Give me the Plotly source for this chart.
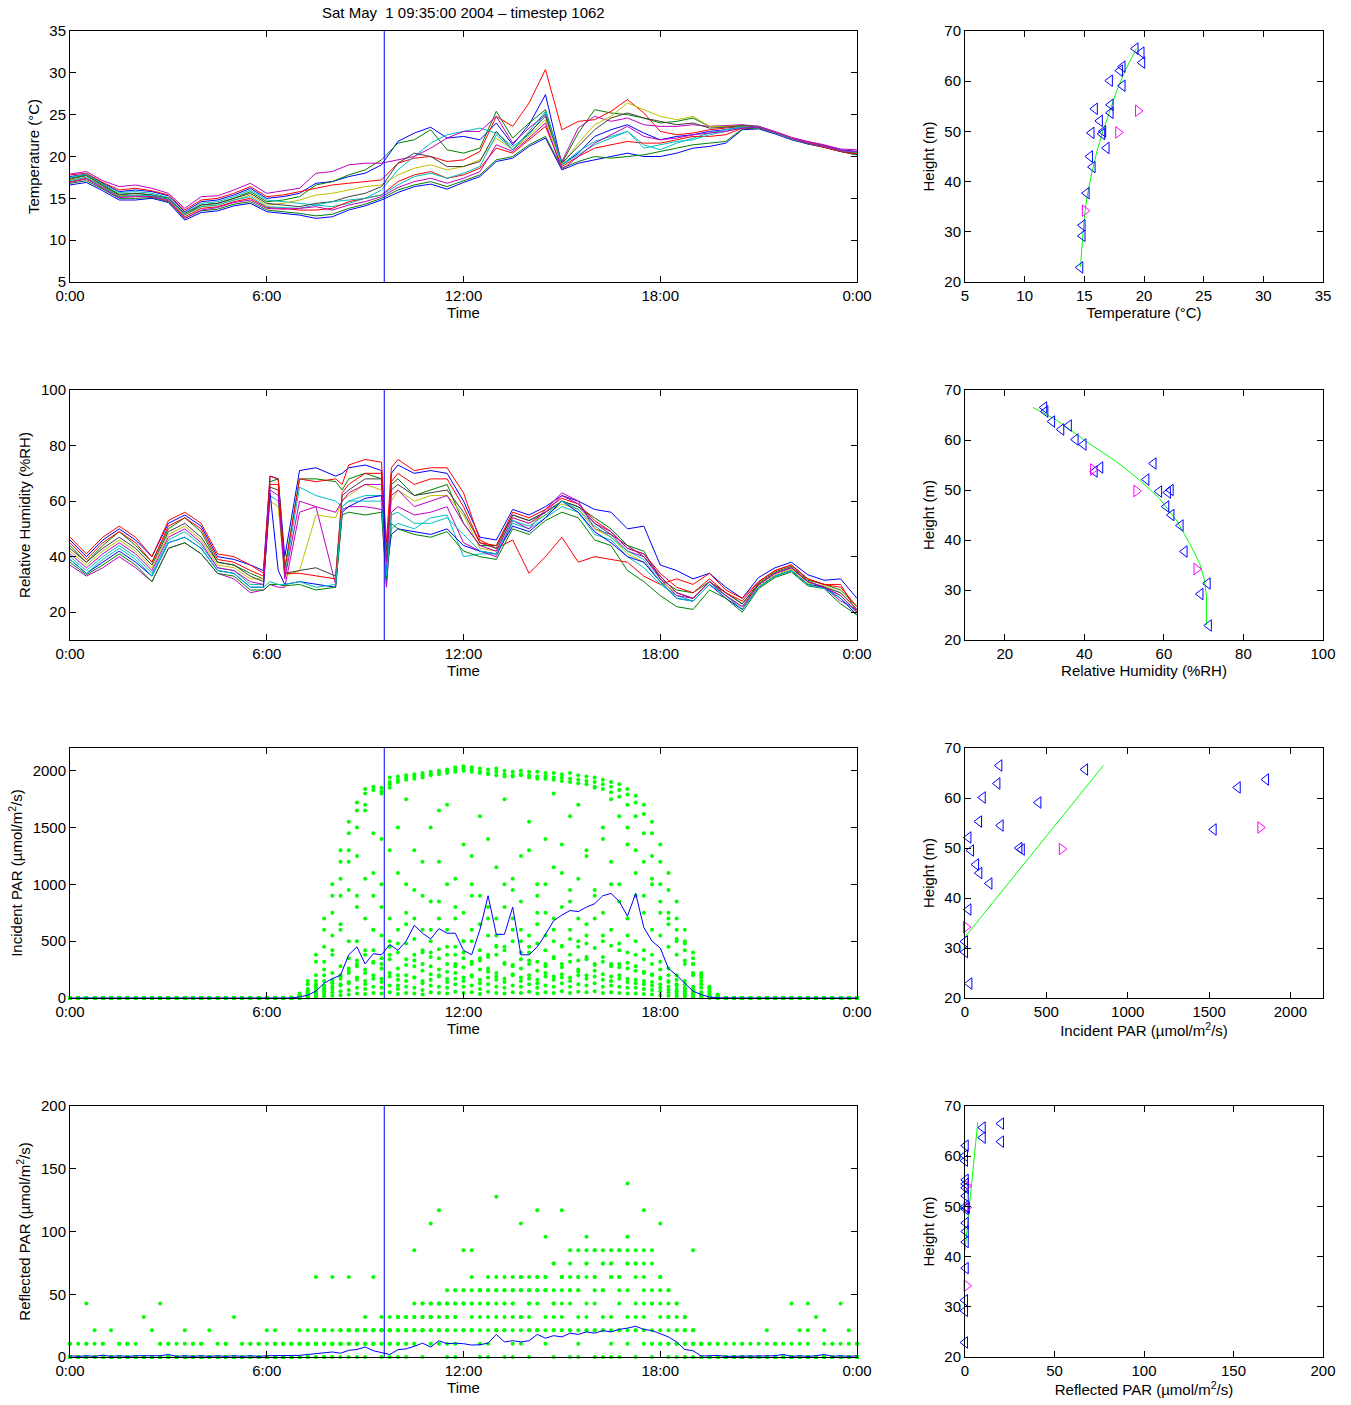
import plotly.graph_objects as go

W, H = 1351, 1405

TITLE = "Sat May\u00a0 1 09:35:00 2004 \u2013 timestep 1062"
CURRENT_TIME_H = 9 + 35 / 60

TIME_TICKS = [0, 6, 12, 18, 24]
TIME_TICK_TEXT = ["0:00", "6:00", "12:00", "18:00", "0:00"]

LINE_COLORS = ["#0000ff", "#008000", "#ff0000", "#00bfbf", "#bf00bf", "#bfbf00", "#404040"]
DOT_GREEN = "#00ff00"
PROFILE_BLUE = "#0000ff"
PROFILE_MAGENTA = "#ff00ff"

# ---------------- Temperature time series (half-hourly, deg C) ----------------
TEMP_TIME_H = [i * 0.5 for i in range(49)]
TEMP_01 = [17.6, 17.9, 16.8, 15.8, 16.0, 15.8, 15.3, 13.4, 14.6, 14.8,
           15.4, 16.2, 15.0, 15.2, 15.6, 16.8, 17.0, 17.6, 18.0, 19.0,
           21.8, 22.8, 23.5, 22.2, 22.4, 22.0, 24.0, 21.4, 23.8, 27.4,
           19.0, 20.4, 22.4, 23.2, 23.8, 22.8, 22.0, 22.4, 22.6, 23.0,
           23.2, 23.5, 23.6, 22.9, 22.2, 21.7, 21.3, 20.8, 20.6]
TEMP_02 = [17.4, 17.8, 16.6, 15.5, 15.6, 15.4, 15.0, 13.0, 14.2, 14.4,
           15.0, 15.8, 14.6, 14.8, 15.2, 16.6, 17.0, 17.8, 18.4, 19.6,
           21.6, 22.0, 23.2, 20.8, 20.4, 21.0, 25.4, 22.2, 24.0, 25.6,
           19.2, 22.8, 25.6, 25.2, 25.0, 24.6, 24.0, 24.2, 24.6, 23.6,
           23.6, 23.7, 23.6, 22.9, 22.2, 21.6, 21.2, 20.7, 20.3]
TEMP_03 = [17.8, 18.0, 16.9, 16.0, 16.2, 15.9, 15.4, 13.6, 14.8, 15.0,
           15.6, 16.4, 15.2, 15.4, 15.8, 16.2, 16.6, 16.8, 17.0, 17.2,
           19.2, 19.8, 20.0, 19.4, 19.6, 20.6, 24.8, 23.6, 26.4, 30.4,
           23.2, 24.2, 24.4, 25.4, 26.8, 25.2, 23.0, 22.6, 22.8, 23.2,
           23.4, 23.6, 23.6, 22.9, 22.2, 21.7, 21.3, 20.7, 20.4]
TEMP_04 = [17.5, 17.9, 16.7, 15.7, 15.8, 15.6, 15.1, 13.2, 14.4, 14.6,
           15.2, 16.0, 14.8, 14.6, 14.4, 14.2, 14.0, 14.4, 15.0, 16.0,
           18.4, 20.0, 21.6, 22.6, 23.0, 23.4, 22.8, 21.2, 22.6, 25.2,
           19.0, 20.2, 21.4, 22.2, 23.0, 21.4, 20.8, 21.6, 22.2, 22.8,
           23.2, 23.6, 23.6, 22.9, 22.2, 21.6, 21.2, 20.7, 20.5]
TEMP_05 = [17.9, 18.2, 17.1, 16.4, 16.6, 16.2, 15.6, 13.8, 15.2, 15.3,
           16.0, 16.8, 15.6, 15.9, 16.2, 18.0, 18.2, 19.0, 19.2, 19.2,
           19.6, 20.0, 21.0, 22.2, 23.0, 23.0, 24.8, 21.6, 23.4, 25.0,
           19.4, 23.4, 24.8, 24.2, 24.6, 23.8, 23.6, 23.6, 23.8, 23.6,
           23.7, 23.8, 23.6, 23.0, 22.3, 21.8, 21.4, 20.9, 20.8]
TEMP_06 = [17.2, 17.5, 16.4, 15.3, 15.4, 15.3, 14.9, 13.0, 14.0, 14.2,
           14.8, 15.4, 14.2, 14.4, 14.8, 15.4, 15.6, 16.0, 16.4, 16.6,
           17.8, 18.6, 19.0, 18.4, 18.8, 19.6, 22.2, 20.8, 22.4, 24.4,
           19.0, 21.6, 23.8, 24.8, 26.4, 25.6, 24.8, 24.4, 24.8, 23.6,
           23.6, 23.7, 23.5, 22.9, 22.2, 21.6, 21.2, 20.7, 20.4]
TEMP_07 = [17.3, 17.7, 16.5, 15.4, 15.6, 15.4, 15.0, 13.2, 14.2, 14.4,
           15.0, 15.6, 14.4, 14.2, 14.0, 14.4, 14.6, 15.2, 15.6, 16.4,
           19.2, 20.4, 20.0, 18.8, 18.8, 19.4, 23.0, 20.8, 22.8, 24.8,
           19.2, 21.2, 23.2, 24.6, 25.2, 24.6, 24.2, 23.8, 24.0, 23.4,
           23.5, 23.7, 23.5, 22.8, 22.1, 21.6, 21.2, 20.7, 20.4]
TEMP_08 = [16.6, 16.9, 15.9, 14.8, 14.8, 15.0, 14.5, 12.4, 13.3, 13.5,
           14.1, 14.4, 13.4, 13.2, 13.0, 12.6, 12.8, 13.6, 14.1, 14.8,
           15.7, 16.4, 16.7, 16.1, 16.9, 17.6, 19.4, 19.8, 21.2, 22.2,
           18.4, 19.2, 19.6, 20.0, 20.4, 20.0, 20.0, 20.4, 21.0, 21.2,
           21.6, 23.2, 23.3, 22.7, 22.0, 21.5, 21.1, 20.6, 20.2]
TEMP_09 = [16.8, 17.1, 16.1, 15.0, 15.0, 15.1, 14.6, 12.6, 13.5, 13.7,
           14.3, 14.6, 13.6, 13.4, 13.2, 12.9, 13.1, 13.8, 14.3, 15.0,
           16.0, 16.6, 17.0, 16.4, 17.1, 17.8, 19.6, 20.0, 21.4, 22.4,
           18.6, 19.4, 20.0, 19.8, 20.0, 20.2, 20.6, 21.0, 21.4, 21.6,
           21.8, 23.3, 23.4, 22.8, 22.1, 21.5, 21.1, 20.6, 20.2]
TEMP_10 = [17.0, 17.4, 16.3, 15.2, 15.3, 15.2, 14.8, 12.8, 13.8, 14.0,
           14.6, 15.0, 13.9, 13.8, 13.6, 13.6, 13.8, 14.6, 15.0, 15.4,
           17.0, 17.8, 18.2, 17.4, 17.8, 18.6, 21.0, 20.4, 22.0, 23.6,
           18.8, 20.0, 21.0, 21.4, 21.8, 21.6, 21.6, 22.0, 22.4, 22.4,
           22.6, 23.4, 23.5, 22.8, 22.1, 21.6, 21.1, 20.6, 20.3]
TEMP_11 = [17.1, 17.5, 16.3, 15.2, 15.4, 15.3, 14.9, 13.0, 14.0, 14.2,
           14.8, 15.2, 14.0, 13.9, 13.8, 14.2, 14.6, 14.8, 15.0, 15.4,
           16.6, 17.6, 18.0, 17.4, 18.0, 18.8, 22.6, 20.8, 23.0, 25.4,
           19.0, 20.6, 21.8, 22.4, 23.0, 21.0, 21.4, 21.8, 22.0, 22.6,
           23.0, 23.5, 23.5, 22.8, 22.1, 21.6, 21.2, 20.7, 20.5]
TEMP_12 = [16.9, 17.3, 16.2, 15.1, 15.2, 15.2, 14.7, 12.6, 13.6, 13.9,
           14.5, 14.8, 13.8, 13.7, 13.8, 14.0, 13.6, 14.2, 14.6, 15.2,
           16.3, 17.0, 17.4, 16.8, 17.4, 18.2, 21.4, 20.6, 22.2, 24.0,
           18.4, 20.0, 21.6, 22.6, 23.6, 22.4, 22.0, 22.2, 22.6, 22.8,
           23.0, 23.4, 23.5, 22.9, 22.2, 21.6, 21.2, 20.7, 20.6]
TEMP_SERIES = [TEMP_01, TEMP_02, TEMP_03, TEMP_04, TEMP_05, TEMP_06,
               TEMP_07, TEMP_08, TEMP_09, TEMP_10, TEMP_11, TEMP_12]

# ---------------- Relative humidity time series (%RH) ----------------
RH_TIME_H = [0, 0.5, 1, 1.5, 2, 2.5, 3, 3.5, 4, 4.5,
             5, 5.5, 5.9, 6.1, 6.35, 6.55, 7, 7.5, 8.1, 8.3,
             8.5, 9, 9.5, 9.65, 9.8, 10, 10.5, 11, 11.5, 12,
             12.5, 13, 13.5, 14, 14.5, 15, 15.5, 16, 16.5, 17,
             17.5, 18, 18.5, 19, 19.5, 20, 20.5, 21, 21.5, 22,
             22.5, 23, 23.5, 24]
RH_01 = [46, 40, 46, 50, 46, 40, 52, 55, 51, 40,
         39, 37, 35, 69, 68, 40, 71, 72, 69, 70,
         72, 73, 71, 30, 70, 73, 70, 71, 70, 60,
         47, 46, 57, 55, 58, 62, 60, 57, 56, 50,
         51, 37, 35, 32, 34, 29, 25, 32.5, 36, 38,
         33.5, 31.5, 32, 25]
RH_02 = [44, 38, 44, 49, 44, 38, 50, 54, 49, 38,
         37, 34, 32, 67, 68, 36, 68, 68, 67, 64,
         68, 70, 68, 40, 66, 68, 62, 64, 66, 52,
         44, 44, 55, 53, 56, 60, 58, 54, 50, 44,
         42, 32, 28, 27, 31, 27, 23, 30.5, 34.5, 36.5,
         31.5, 30, 28, 22]
RH_03 = [47, 41, 47, 51, 47, 40, 53, 56, 52, 41,
         40, 37, 34, 69, 68, 35, 68, 67, 68, 66,
         73, 75, 74, 45, 72, 75, 71, 72, 72, 63,
         46, 43, 46, 34, 40, 47, 38, 40, 39, 38,
         33, 30, 32, 30, 34, 28, 25, 31, 35, 37,
         32, 30, 30, 20]
RH_04 = [40, 35, 40, 44, 40, 34, 46, 49, 44, 36,
         35, 30, 30, 62, 60, 33, 65, 62, 60, 58,
         60, 62, 62, 30, 50, 52, 50, 54, 55, 40,
         41, 41, 52, 50, 54, 58, 56, 48, 46, 40,
         36, 30, 26, 24, 30, 26, 22, 29, 33, 35,
         30, 29, 26, 20]
RH_05 = [37, 33, 36, 40, 36, 31, 43, 45, 41, 34,
         32, 27, 28, 30, 29, 29, 56, 58, 30, 57,
         58, 58, 57, 29, 56, 58, 55, 56, 58, 45,
         42, 40, 53, 50, 57, 63, 60, 50, 48, 42,
         40, 32, 26, 25, 31, 26, 21, 30, 34, 36,
         31, 29, 24, 21]
RH_06 = [42, 37, 42, 46, 42, 36, 48, 51, 46, 37,
         36, 32, 32, 60, 58, 33, 35, 55, 54, 60,
         62, 66, 64, 40, 60, 64, 60, 62, 62, 55,
         43, 42, 54, 52, 55, 59, 57, 50, 47, 41,
         38, 31, 27, 25, 31, 26, 22, 29.5, 33.5, 35.5,
         30.5, 29.5, 27, 21]
RH_07 = [43, 38, 43, 47, 43, 37, 49, 52, 47, 38,
         37, 33, 31, 65, 64, 34, 35, 36, 33, 62,
         64, 68, 68, 42, 64, 66, 62, 63, 64, 56,
         45, 43, 55, 53, 56, 60, 58, 52, 48, 44,
         40, 33, 27, 25, 31, 27, 23, 30, 34, 36,
         31, 29, 27, 21]
RH_08 = [39, 34, 38, 42, 38, 33, 45, 47, 43, 35,
         34, 29, 29, 63, 35, 30, 31, 30, 29, 56,
         58, 61, 62, 35, 48, 50, 49, 48, 50, 44,
         42, 41, 51, 49, 54, 60, 56, 49, 45, 40,
         38, 31, 25, 24, 30, 25, 21, 29, 33, 35,
         30, 29, 25, 19]
RH_09 = [38, 33.5, 37, 41, 37, 31, 43, 45, 41, 34,
         33, 28, 28, 30, 30, 29.5, 30, 28, 29, 55,
         56, 55, 56, 32, 52, 50, 48, 47, 49, 42,
         40, 39, 50, 48, 53, 56, 54, 46, 44, 35,
         31, 26, 22, 21, 28, 25, 20, 28.5, 32.5, 34.5,
         29.5, 28.5, 23, 19]
RH_10 = [45, 39, 45, 49, 45, 38, 51, 54, 50, 39,
         38, 35, 33, 66, 66, 34, 34, 33, 32, 63,
         66, 70, 70, 38, 67, 70, 66, 68, 68, 58,
         45, 44, 56, 54, 57, 61, 59, 53, 49, 43,
         41, 34, 29, 27, 32, 27, 24, 31, 35, 37,
         32, 30, 29, 22]
RH_11 = [39, 34, 39, 43, 39, 33, 45, 47, 43, 35,
         34, 29, 29, 31, 30, 30, 31, 29, 30, 58,
         60, 60, 60, 33, 55, 56, 52, 52, 54, 48,
         42, 41, 53, 51, 55, 60, 57, 51, 47, 42,
         39, 31, 25, 24, 30, 26, 21, 29, 33, 35,
         30, 28.5, 25, 20]
RH_12 = [41, 36, 41, 45, 41, 35, 47, 50, 45, 36,
         35, 31, 30, 64, 62, 32, 60, 58, 56, 60,
         63, 66, 66, 38, 62, 64, 58, 60, 62, 52,
         44, 42, 54, 52, 56, 62, 59, 52, 49, 43,
         41, 33, 27, 25, 31, 26, 22, 30, 34, 36,
         31, 29, 26, 20]
RH_SERIES = [RH_01, RH_02, RH_03, RH_04, RH_05, RH_06,
             RH_07, RH_08, RH_09, RH_10, RH_11, RH_12]

# ---------------- Incident PAR (quarter-hourly, umol/m2/s) ----------------
PAR_TIME_H = [i * 0.25 for i in range(97)]
NIGHT_AM = [0] * 26   # 0:00 - 6:15
NIGHT_PM = [0] * 16   # 20:15 - 24:00
INC_DAY_01 = [0, 5, 40, 150, 380, 700, 1000, 1300, 1550, 1720,
              1840, 1860, 1850, 1940, 1950, 1960, 1970, 1980, 1990, 2000,
              2010, 2030, 2040, 2030, 2020, 2010, 2020, 2000, 1990, 2000,
              1990, 1990, 1980, 1980, 1970, 1980, 1960, 1950, 1940, 1920,
              1900, 1880, 1840, 1780, 1700, 1550, 1350, 1100, 850, 600,
              400, 220, 100, 30, 0]
INC_DAY_02 = [0, 3, 30, 120, 320, 600, 900, 1200, 1450, 1650,
              1800, 1830, 1820, 1900, 1920, 1940, 1950, 1960, 1970, 1990,
              2000, 2010, 2020, 2010, 1990, 1980, 1990, 1970, 1960, 1970,
              1960, 1950, 1950, 1940, 1940, 1930, 1920, 1910, 1900, 1880,
              1860, 1830, 1790, 1720, 1620, 1450, 1200, 950, 700, 480,
              300, 150, 60, 15, 0]
INC_DAY_03 = [0, 2, 20, 80, 200, 450, 750, 1050, 1300, 1500,
              1700, 1450, 1800, 1880, 1900, 1920, 1930, 1940, 1960, 1970,
              1980, 1990, 2000, 1990, 1980, 1970, 1960, 1950, 1950, 1960,
              1940, 1930, 1930, 1920, 1910, 1900, 1890, 1880, 1860, 1840,
              1810, 1770, 1700, 1600, 1450, 1250, 1000, 750, 520, 330,
              200, 90, 30, 5, 0]
INC_DAY_04 = [0, 1, 15, 60, 150, 320, 550, 900, 1200, 800,
              1650, 1100, 1400, 1850, 600, 1750, 1300, 900, 1500, 1200,
              1700, 800, 1350, 1000, 1600, 1400, 700, 1750, 1050, 1250,
              1550, 900, 1400, 1800, 1100, 1600, 1700, 1300, 1850, 1500,
              1750, 1600, 1500, 1300, 1200, 1050, 850, 700, 600, 500,
              350, 200, 90, 20, 0]
INC_DAY_05 = [0, 1, 10, 40, 100, 200, 380, 600, 950, 1250,
              700, 900, 1000, 1300, 1500, 1000, 700, 1200, 850, 1650,
              600, 1050, 750, 1250, 900, 550, 1150, 800, 950, 600,
              1300, 1000, 750, 1150, 1350, 850, 1050, 1250, 950, 1400,
              1200, 1000, 1350, 1100, 900, 1000, 750, 650, 500, 420,
              300, 180, 80, 15, 0]
INC_DAY_06 = [0, 1, 8, 30, 80, 150, 220, 280, 350, 500,
              420, 600, 550, 700, 480, 650, 520, 400, 600, 700,
              450, 380, 500, 600, 350, 700, 550, 450, 600, 500,
              400, 650, 550, 700, 450, 600, 500, 650, 700, 550,
              600, 480, 550, 500, 420, 380, 320, 260, 200, 150,
              100, 50, 20, 5, 0]
INC_DAY_07 = [0, 1, 5, 25, 60, 110, 160, 200, 220, 280,
              250, 320, 300, 380, 260, 340, 280, 300, 360, 250,
              300, 280, 350, 300, 330, 260, 380, 300, 280, 340,
              300, 320, 280, 350, 300, 380, 330, 360, 300, 320,
              280, 300, 260, 240, 220, 200, 180, 150, 120, 90,
              60, 30, 10, 2, 0]
INC_DAY_08 = [0, 0, 3, 15, 40, 70, 100, 120, 140, 180,
              150, 200, 170, 220, 160, 200, 180, 150, 210, 190,
              170, 220, 180, 200, 160, 230, 190, 170, 210, 180,
              200, 160, 220, 190, 210, 180, 230, 200, 240, 210,
              190, 200, 170, 160, 150, 140, 120, 100, 80, 60,
              40, 20, 8, 1, 0]
INC_DAY_09 = [0, 0, 2, 8, 20, 35, 50, 60, 70, 90,
              80, 100, 90, 110, 80, 100, 90, 70, 110, 100,
              90, 120, 100, 110, 80, 120, 100, 90, 110, 100,
              120, 90, 110, 100, 130, 100, 120, 110, 130, 100,
              110, 100, 90, 90, 80, 70, 60, 50, 40, 30,
              20, 10, 4, 1, 0]
INC_DAY_10 = [0, 0, 1, 4, 10, 15, 20, 25, 30, 40,
              35, 45, 40, 50, 35, 45, 40, 30, 50, 45,
              40, 55, 45, 50, 35, 55, 45, 40, 50, 45,
              55, 40, 50, 45, 60, 45, 55, 50, 60, 45,
              50, 45, 40, 40, 35, 30, 25, 20, 15, 12,
              8, 4, 2, 0, 0]
INC_DAY_11 = [0, 1, 10, 50, 120, 250, 420, 650, 500, 900,
              1050, 600, 800, 500, 1100, 750, 950, 600, 400, 850,
              1000, 700, 500, 900, 650, 800, 450, 1000, 700, 850,
              550, 750, 1000, 600, 800, 950, 700, 550, 900, 750,
              1000, 850, 700, 900, 750, 600, 550, 450, 380, 300,
              220, 120, 50, 10, 0]
INC_DAY_12 = [0, 0, 6, 20, 50, 90, 130, 170, 260, 330,
              380, 420, 350, 450, 400, 480, 380, 420, 500, 430,
              380, 450, 400, 500, 420, 380, 460, 420, 500, 400,
              450, 480, 420, 500, 460, 520, 450, 480, 440, 500,
              460, 420, 400, 380, 340, 300, 250, 200, 160, 120,
              80, 40, 15, 3, 0]
INC_DAY_13 = [0, 1, 4, 18, 45, 85, 140, 190, 240, 300,
              220, 310, 260, 340, 200, 290, 330, 240, 280, 350,
              230, 300, 270, 320, 250, 360, 220, 310, 290, 260,
              330, 240, 300, 360, 270, 320, 250, 340, 290, 360,
              300, 270, 310, 280, 230, 210, 170, 140, 110, 80,
              50, 25, 8, 1, 0]
INC_DAY_14 = [0, 0, 2, 10, 30, 55, 80, 110, 130, 160,
              120, 170, 140, 190, 110, 150, 180, 130, 160, 200,
              140, 170, 150, 190, 130, 180, 160, 140, 200, 150,
              170, 130, 190, 160, 180, 150, 200, 170, 190, 160,
              150, 170, 140, 130, 120, 110, 90, 75, 60, 45,
              30, 15, 5, 1, 0]
INC_DAY_SENSORS = [INC_DAY_01, INC_DAY_02, INC_DAY_03, INC_DAY_04, INC_DAY_05, INC_DAY_06,
                   INC_DAY_07, INC_DAY_08, INC_DAY_09, INC_DAY_10, INC_DAY_11, INC_DAY_12,
                   INC_DAY_13, INC_DAY_14]
INC_MEAN_DAY = [0, 0, 10, 25, 60, 130, 170, 200, 380, 450,
                300, 390, 380, 470, 420, 500, 640, 570, 520, 610,
                570, 570, 420, 380, 600, 900, 560, 560, 800, 380,
                380, 450, 560, 680, 730, 770, 760, 800, 830, 900,
                920, 850, 720, 920, 620, 500, 440, 260, 200, 130,
                60, 30, 8, 2, 0]

# ---------------- Reflected PAR (quarter-hourly, umol/m2/s) ----------------
REFL_01 = ([0, 0, 10.6, 0, 0, 0, 10.6, 0, 0, 0, 0, 0, 10.6, 0, 0, 0, 10.6, 0, 0, 0, 0, 10.6, 0, 0, 0, 10.6]
           + [10.6, 0, 10.6, 21.3, 10.6, 21.3, 10.6, 21.3, 21.3, 10.6,
              21.3, 21.3, 10.6, 21.3, 31.9, 21.3, 31.9, 42.6, 31.9, 42.6,
              31.9, 42.6, 53.2, 42.6, 53.2, 63.8, 53.2, 63.8, 53.2, 63.8,
              63.8, 53.2, 63.8, 74.5, 63.8, 85.1, 63.8, 85.1, 85.1, 74.5,
              85.1, 85.1, 95.8, 85.1, 74.5, 85.1, 63.8, 53.2, 42.6, 31.9,
              21.3, 10.6, 10.6, 0, 0]
           + [0, 10.6, 0, 0, 21.3, 0, 0, 10.6, 0, 0, 31.9, 0, 10.6, 0, 0, 10.6])
REFL_02 = ([10.6, 0, 0, 21.3, 0, 0, 0, 10.6, 0, 0, 21.3, 0, 0, 0, 10.6, 0, 0, 21.3, 0, 10.6, 0, 0, 10.6, 0, 21.3, 0]
           + [0, 10.6, 21.3, 10.6, 10.6, 21.3, 21.3, 10.6, 21.3, 21.3,
              10.6, 21.3, 21.3, 21.3, 21.3, 31.9, 21.3, 31.9, 42.6, 31.9,
              42.6, 53.2, 42.6, 53.2, 53.2, 42.6, 53.2, 53.2, 42.6, 53.2,
              53.2, 63.8, 53.2, 53.2, 63.8, 53.2, 63.8, 74.5, 63.8, 74.5,
              74.5, 63.8, 74.5, 74.5, 63.8, 53.2, 53.2, 42.6, 31.9, 21.3,
              21.3, 10.6, 0, 10.6, 0]
           + [0, 0, 10.6, 0, 0, 10.6, 0, 0, 21.3, 0, 0, 10.6, 0, 0, 21.3, 0])
REFL_03 = ([0, 10.6, 0, 0, 10.6, 0, 10.6, 0, 0, 31.9, 0, 10.6, 0, 0, 0, 10.6, 0, 0, 10.6, 0, 31.9, 0, 0, 10.6, 0, 0]
           + [10.6, 0, 10.6, 10.6, 21.3, 10.6, 10.6, 21.3, 10.6, 10.6,
              21.3, 10.6, 21.3, 21.3, 10.6, 21.3, 21.3, 21.3, 31.9, 21.3,
              31.9, 31.9, 42.6, 31.9, 42.6, 42.6, 31.9, 42.6, 42.6, 31.9,
              42.6, 42.6, 53.2, 42.6, 42.6, 53.2, 53.2, 42.6, 53.2, 53.2,
              63.8, 53.2, 53.2, 42.6, 42.6, 42.6, 31.9, 31.9, 21.3, 21.3,
              10.6, 10.6, 0, 0, 10.6]
           + [0, 10.6, 0, 0, 0, 10.6, 0, 0, 0, 21.3, 0, 0, 0, 10.6, 0, 0])
REFL_04 = ([0, 0, 0, 10.6, 0, 0, 0, 0, 10.6, 0, 0, 0, 0, 10.6, 0, 0, 0, 0, 0, 10.6, 0, 10.6, 0, 0, 10.6, 10.6]
           + [0, 10.6, 0, 10.6, 10.6, 10.6, 0, 10.6, 10.6, 10.6,
              10.6, 10.6, 21.3, 10.6, 21.3, 10.6, 21.3, 21.3, 21.3, 21.3,
              21.3, 31.9, 21.3, 21.3, 31.9, 31.9, 21.3, 31.9, 31.9, 31.9,
              31.9, 21.3, 31.9, 31.9, 31.9, 42.6, 31.9, 31.9, 42.6, 31.9,
              31.9, 42.6, 31.9, 31.9, 31.9, 21.3, 21.3, 21.3, 10.6, 10.6,
              10.6, 0, 10.6, 0, 0]
           + [10.6, 0, 0, 0, 10.6, 0, 0, 0, 0, 10.6, 0, 0, 0, 0, 10.6, 0])
REFL_05 = ([0, 0, 10.6, 0, 0, 0, 0, 10.6, 0, 0, 0, 10.6, 0, 0, 0, 0, 10.6, 0, 0, 0, 0, 0, 10.6, 0, 0, 0]
           + [0, 0, 10.6, 0, 10.6, 0, 10.6, 10.6, 0, 10.6,
              10.6, 10.6, 10.6, 10.6, 10.6, 10.6, 10.6, 21.3, 10.6, 10.6,
              21.3, 10.6, 21.3, 21.3, 10.6, 21.3, 21.3, 21.3, 10.6, 21.3,
              21.3, 21.3, 21.3, 21.3, 21.3, 21.3, 21.3, 21.3, 21.3, 21.3,
              21.3, 21.3, 21.3, 21.3, 21.3, 10.6, 10.6, 10.6, 10.6, 0,
              10.6, 0, 0, 0, 0]
           + [0, 0, 0, 0, 0, 0, 10.6, 0, 0, 0, 0, 0, 0, 0, 0, 10.6])
REFL_06 = ([0, 0, 42.6, 0, 0, 0, 0, 0, 0, 0, 0, 42.6, 0, 0, 0, 0, 0, 0, 0, 0, 0, 0, 0, 0, 0, 0]
           + [0, 0, 0, 0, 63.8, 0, 63.8, 0, 63.8, 0,
              0, 63.8, 0, 0, 0, 0, 85.1, 0, 106.4, 117.0,
              0, 0, 85.1, 85.1, 0, 0, 127.7, 0, 0, 106.4,
              0, 117.0, 95.8, 0, 117.0, 0, 0, 95.8, 0, 0,
              0, 0, 138.3, 0, 117.0, 0, 106.4, 0, 0, 0,
              85.1, 0, 0, 0, 0]
           + [0, 0, 0, 0, 0, 0, 0, 42.6, 0, 42.6, 0, 0, 0, 42.6, 0, 0])
REFL_07 = ([10.6, 0, 0, 0, 10.6, 0, 0, 10.6, 0, 0, 0, 0, 10.6, 0, 0, 10.6, 0, 0, 0, 10.6, 0, 0, 0, 10.6, 0, 10.6]
           + [10.6, 10.6, 10.6, 10.6, 10.6, 21.3, 10.6, 10.6, 21.3, 10.6,
              21.3, 10.6, 21.3, 10.6, 21.3, 21.3, 10.6, 21.3, 21.3, 21.3,
              10.6, 21.3, 21.3, 21.3, 21.3, 10.6, 21.3, 21.3, 21.3, 10.6,
              21.3, 21.3, 10.6, 21.3, 21.3, 21.3, 10.6, 21.3, 21.3, 21.3,
              10.6, 21.3, 10.6, 21.3, 10.6, 10.6, 10.6, 10.6, 10.6, 10.6,
              0, 10.6, 0, 10.6, 0]
           + [0, 0, 0, 10.6, 0, 0, 0, 0, 10.6, 0, 0, 0, 10.6, 0, 0, 0])
REFL_08 = ([0, 0, 0, 0, 0, 21.3, 0, 0, 0, 0, 0, 0, 0, 0, 21.3, 0, 0, 0, 0, 0, 0, 0, 0, 0, 0, 21.3]
           + [0, 0, 0, 0, 21.3, 0, 10.6, 21.3, 21.3, 21.3,
              31.9, 21.3, 31.9, 21.3, 31.9, 31.9, 42.6, 31.9, 42.6, 42.6,
              42.6, 53.2, 42.6, 42.6, 53.2, 53.2, 42.6, 42.6, 53.2, 53.2,
              42.6, 53.2, 53.2, 42.6, 53.2, 63.8, 53.2, 63.8, 63.8, 53.2,
              63.8, 63.8, 74.5, 63.8, 53.2, 42.6, 42.6, 31.9, 21.3, 21.3,
              10.6, 10.6, 0, 0, 0]
           + [0, 0, 0, 0, 0, 0, 0, 0, 0, 0, 0, 21.3, 0, 0, 0, 0])
REFL_09 = ([0] * 26
           + [0, 0, 0, 10.6, 0, 10.6, 0, 10.6, 10.6, 21.3,
              21.3, 21.3, 21.3, 31.9, 31.9, 21.3, 31.9, 42.6, 31.9, 42.6,
              53.2, 42.6, 53.2, 63.8, 53.2, 53.2, 63.8, 53.2, 63.8, 63.8,
              53.2, 63.8, 63.8, 74.5, 63.8, 74.5, 85.1, 74.5, 85.1, 85.1,
              74.5, 85.1, 85.1, 74.5, 85.1, 74.5, 63.8, 53.2, 42.6, 31.9,
              21.3, 10.6, 0, 0, 0]
           + [0] * 16)
REFL_SENSORS = [REFL_01, REFL_02, REFL_03, REFL_04, REFL_05, REFL_06, REFL_07, REFL_08, REFL_09]
REFL_MEAN = ([1, 0.5, 1, 0.5, 1.5, 0.5, 1, 0.5, 1, 1, 0.5, 1, 2, 0.5, 1, 0.5, 1, 0.5, 1, 0.5, 1, 0.5, 1, 0.5, 1, 1]
             + [1, 1.5, 1.3, 2, 2.7, 3, 4, 3, 5.3, 6,
                8, 5, 3.5, 2, 5.8, 6.5, 8.5, 11, 8, 13,
                10.6, 11, 10.6, 9.5, 9.8, 11, 18, 12, 13, 12,
                13, 18, 15, 17, 16, 19, 18, 20, 19, 21,
                20, 22, 23, 24.5, 22, 21, 18.6, 16, 12, 6,
                5, 0.8, 1, 1.3, 0.5]
             + [0.5, 1, 0.5, 1, 0.5, 1, 2, 0.5, 1, 0.5, 1, 2, 0.5, 1, 0.5, 1])

# ---------------- Vertical profiles at the current timestep ----------------
HEIGHT_BLUE = [66.5, 65.7, 63.7, 62.9, 62.1, 60.1, 59.1, 55.3, 54.5, 53.7, 52.1,
               50.0, 49.7, 49.5, 46.7, 45.0, 42.9, 37.7, 31.3, 29.2, 22.9]
HEIGHT_MAGENTA = [54.1, 49.8, 34.2]

PROF_TEMP_BLUE = [19.29, 19.79, 19.85, 18.2, 17.98, 17.14, 18.2, 17.2, 15.88, 17.2, 16.3,
                  16.58, 15.6, 16.5, 16.86, 15.47, 15.69, 15.19, 14.85, 14.85, 14.66]
PROF_TEMP_MAGENTA = [19.5, 17.84, 15.05]
FIT_TEMP_H = [23, 26, 30, 34, 38, 42, 46, 50, 54, 58, 62, 66.5]
FIT_TEMP_V = [14.68, 14.75, 14.9, 15.05, 15.3, 15.65, 16.05, 16.55, 17.1, 17.7, 18.4, 19.35]

PROF_RH_BLUE = [29.9, 30.2, 31.9, 36.1, 34.2, 37.8, 39.8, 57.4, 44.0, 42.6, 55.6,
                61.7, 58.8, 61.0, 60.6, 61.9, 64.2, 65.2, 71.0, 69.2, 71.3]
PROF_RH_MAGENTA = [42.2, 53.1, 68.2]
FIT_RH_H = [23, 28.7, 32, 35.3, 39.3, 44, 48.3, 52, 55.7, 59.7, 64, 66.5]
FIT_RH_V = [70.7, 70.7, 70.2, 69.0, 66.5, 63.1, 58.9, 53.9, 48.0, 40.5, 33.0, 27.1]

PROF_INC_BLUE = [211, 738, 1850, 199, 1676, 109, 451, 86, 219, 1528, 21,
                 334, 349, 37, 68, 88, 150, 21, 0, 0, 27]
PROF_INC_MAGENTA = [1815, 595, 6]
FIT_INC_H = [32.2, 66.5]
FIT_INC_V = [0, 851]

PROF_REFL_BLUE = [20.1, 9.9, 9.9, 20.1, 0.4, 0, 0, 0.4, 0.4, 0.4, 0.4,
                  0.4, 1.0, 0.4, 0.4, 0.4, 0.4, 0.4, 0, 0, 0]
PROF_REFL_MAGENTA = [0.9, 0.9, 0.9]
FIT_REFL_H = [41.3, 66.7]
FIT_REFL_V = [0, 7.1]

# ---------------- sanity ----------------
for s in TEMP_SERIES:
    assert len(s) == len(TEMP_TIME_H), len(s)
for s in RH_SERIES:
    assert len(s) == len(RH_TIME_H), len(s)
for s in INC_DAY_SENSORS:
    assert len(s) == 55, len(s)
assert len(INC_MEAN_DAY) == 55
for s in REFL_SENSORS:
    assert len(s) == 97, len(s)
assert len(REFL_MEAN) == 97

# ---------------- layout geometry (pixel boxes) ----------------
ROWS = [(31, 282), (390, 640), (748, 998), (1106, 1357)]
LEFT_X = (70, 857)
RIGHT_X = (965, 1323)


def xdom(box):
    return [box[0] / W, box[1] / W]


def ydom(box):
    return [1 - box[1] / H, 1 - box[0] / H]


FONT = "Liberation Sans, Arial, Helvetica, sans-serif"
FS = 15

fig = go.Figure()

axis_common = dict(showline=True, linecolor="black", linewidth=1, mirror="ticks",
                   ticks="inside", ticklen=6, tickcolor="black", tickwidth=1,
                   showgrid=False, zeroline=False, automargin=False,
                   tickfont=dict(family=FONT, size=FS, color="black"))

layout = dict(width=W, height=H, margin=dict(l=0, r=0, t=0, b=0, autoexpand=False),
              paper_bgcolor="white", plot_bgcolor="white", showlegend=False,
              font=dict(family=FONT, size=FS, color="black"))

left_y_titles = ["Temperature (\u00b0C)", "Relative Humidity (%RH)",
                 "Incident PAR (\u00b5mol/m<sup>2</sup>/s)", "Reflected PAR (\u00b5mol/m<sup>2</sup>/s)"]
left_y_ranges = [[5, 35], [10, 100], [0, 2200], [0, 200]]
left_y_ticks = [[5, 10, 15, 20, 25, 30, 35], [20, 40, 60, 80, 100],
                [0, 500, 1000, 1500, 2000], [0, 50, 100, 150, 200]]
right_x_titles = left_y_titles
right_x_ranges = [[5, 35], [10, 100], [0, 2200], [0, 200]]
right_x_ticks = [[5, 10, 15, 20, 25, 30, 35], [20, 40, 60, 80, 100],
                 [0, 500, 1000, 1500, 2000], [0, 50, 100, 150, 200]]

for r in range(4):
    li = 2 * r + 1
    ri = 2 * r + 2
    lx = "xaxis" if li == 1 else f"xaxis{li}"
    ly = "yaxis" if li == 1 else f"yaxis{li}"
    layout[lx] = dict(axis_common, domain=xdom(LEFT_X), anchor=f"y{'' if li == 1 else li}",
                      range=[0, 24], tickvals=TIME_TICKS, ticktext=TIME_TICK_TEXT,
                      title=dict(text="Time", standoff=1, font=dict(size=FS)))
    layout[ly] = dict(axis_common, domain=ydom(ROWS[r]), anchor=f"x{'' if li == 1 else li}",
                      range=left_y_ranges[r], tickvals=left_y_ticks[r],
                      title=dict(text=left_y_titles[r], standoff=6, font=dict(size=FS)))
    layout[f"xaxis{ri}"] = dict(axis_common, domain=xdom(RIGHT_X), anchor=f"y{ri}",
                                range=right_x_ranges[r], tickvals=right_x_ticks[r],
                                title=dict(text=right_x_titles[r], standoff=1, font=dict(size=FS)))
    layout[f"yaxis{ri}"] = dict(axis_common, domain=ydom(ROWS[r]), anchor=f"x{ri}",
                                range=[20, 70], tickvals=[20, 30, 40, 50, 60, 70],
                                title=dict(text="Height (m)", standoff=6, font=dict(size=FS)))


def ax(i):
    return ("x", "y") if i == 1 else (f"x{i}", f"y{i}")


# Row 1: temperature lines
xa, ya = ax(1)
for k, s in enumerate(TEMP_SERIES):
    fig.add_trace(go.Scatter(x=TEMP_TIME_H, y=s, mode="lines", xaxis=xa, yaxis=ya,
                             line=dict(color=LINE_COLORS[k % 7], width=1), hoverinfo="skip"))

# Row 2: RH lines
xa, ya = ax(3)
for k, s in enumerate(RH_SERIES):
    fig.add_trace(go.Scatter(x=RH_TIME_H, y=s, mode="lines", xaxis=xa, yaxis=ya,
                             line=dict(color=LINE_COLORS[k % 7], width=1), hoverinfo="skip"))

# Row 3: incident PAR dots + mean line
xa, ya = ax(5)
dot_x, dot_y = [], []
for s in INC_DAY_SENSORS:
    full = NIGHT_AM + s + NIGHT_PM
    dot_x += PAR_TIME_H
    dot_y += full
fig.add_trace(go.Scatter(x=dot_x, y=dot_y, mode="markers", xaxis=xa, yaxis=ya, cliponaxis=False,
                         marker=dict(color=DOT_GREEN, size=4, line=dict(width=0)), hoverinfo="skip"))
fig.add_trace(go.Scatter(x=PAR_TIME_H, y=NIGHT_AM + INC_MEAN_DAY + NIGHT_PM, mode="lines",
                         xaxis=xa, yaxis=ya, cliponaxis=False,
                         line=dict(color="#0000ff", width=1), hoverinfo="skip"))

# Row 4: reflected PAR dots + mean line
xa, ya = ax(7)
dot_x, dot_y = [], []
for s in REFL_SENSORS:
    dot_x += PAR_TIME_H
    dot_y += s
fig.add_trace(go.Scatter(x=dot_x, y=dot_y, mode="markers", xaxis=xa, yaxis=ya, cliponaxis=False,
                         marker=dict(color=DOT_GREEN, size=4, line=dict(width=0)), hoverinfo="skip"))
fig.add_trace(go.Scatter(x=PAR_TIME_H, y=REFL_MEAN, mode="lines", xaxis=xa, yaxis=ya,
                         line=dict(color="#0000ff", width=1), hoverinfo="skip"))

# Profiles
profiles = [
    (2, FIT_TEMP_V, FIT_TEMP_H, PROF_TEMP_BLUE, PROF_TEMP_MAGENTA),
    (4, FIT_RH_V, FIT_RH_H, PROF_RH_BLUE, PROF_RH_MAGENTA),
    (6, FIT_INC_V, FIT_INC_H, PROF_INC_BLUE, PROF_INC_MAGENTA),
    (8, FIT_REFL_V, FIT_REFL_H, PROF_REFL_BLUE, PROF_REFL_MAGENTA),
]
for i, fv, fh, bv, mv in profiles:
    xa, ya = ax(i)
    fig.add_trace(go.Scatter(x=fv, y=fh, mode="lines", xaxis=xa, yaxis=ya,
                             line=dict(color="#00ff00", width=1), hoverinfo="skip"))
    fig.add_trace(go.Scatter(x=bv, y=HEIGHT_BLUE, mode="markers", xaxis=xa, yaxis=ya, cliponaxis=False,
                             marker=dict(symbol="triangle-left-open", size=10, color=PROFILE_BLUE,
                                         line=dict(width=1, color=PROFILE_BLUE)), hoverinfo="skip"))
    fig.add_trace(go.Scatter(x=mv, y=HEIGHT_MAGENTA, mode="markers", xaxis=xa, yaxis=ya, cliponaxis=False,
                             marker=dict(symbol="triangle-right-open", size=10, color=PROFILE_MAGENTA,
                                         line=dict(width=1, color=PROFILE_MAGENTA)), hoverinfo="skip"))

# current-time cursor on each time series panel
shapes = []
for i in (1, 3, 5, 7):
    xa, ya = ax(i)
    shapes.append(dict(type="line", xref=xa, yref=f"{ya} domain", x0=CURRENT_TIME_H, x1=CURRENT_TIME_H,
                       y0=0, y1=1, line=dict(color="#0000ff", width=1)))
layout["shapes"] = shapes

layout["annotations"] = [dict(text=TITLE, xref="paper", yref="paper",
                              x=(LEFT_X[0] + LEFT_X[1]) / 2 / W, y=1 - 13 / H,
                              xanchor="center", yanchor="middle", showarrow=False,
                              font=dict(family=FONT, size=FS, color="black"))]

fig.update_layout(**layout)
fig.write_html("out.html", config={"displayModeBar": False},
               post_script="document.body.style.margin='0';")
